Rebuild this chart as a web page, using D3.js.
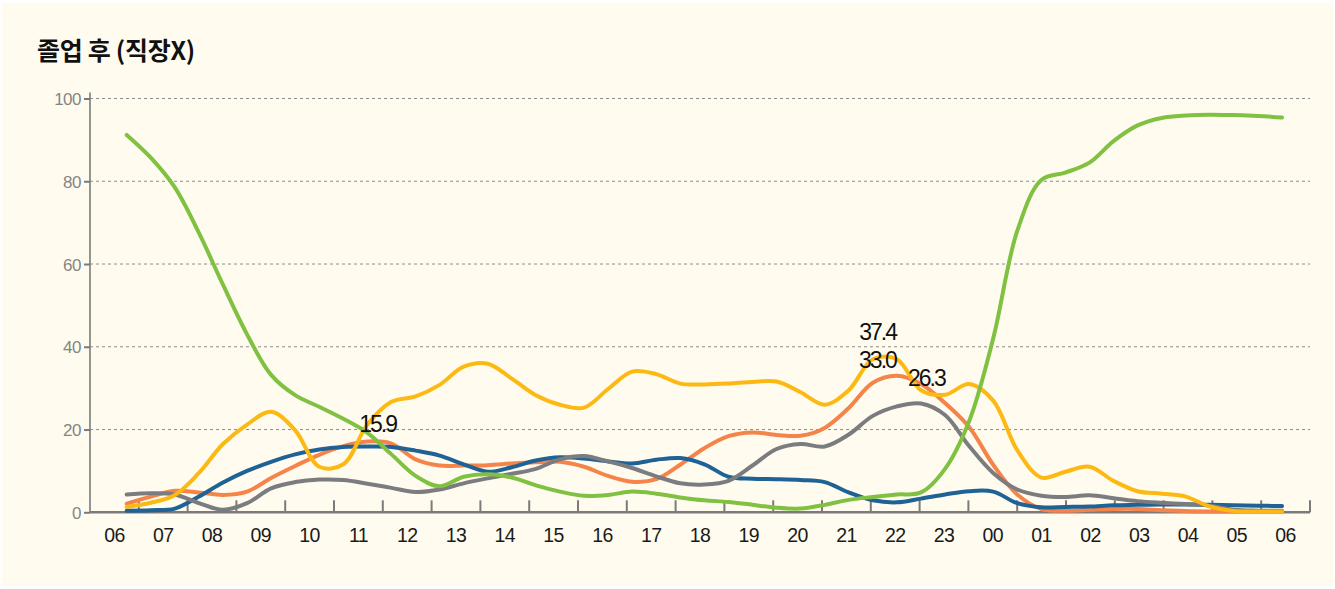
<!DOCTYPE html>
<html>
<head>
<meta charset="utf-8">
<script src="https://cdn.jsdelivr.net/npm/d3@7"></script>
<style>
  html, body { margin: 0; padding: 0; background: #ffffff; }
  svg { display: block; }
</style>
</head>
<body>
<div id="chart"></div>
<script>
// ---------- DATA ----------
const title = "졸업 후 (직장X)";
const hourLabels = ["06","07","08","09","10","11","12","13","14","15","16","17","18","19","20","21","22","23","00","01","02","03","04","05","06"];
const yTicks = [0, 20, 40, 60, 80, 100];
// half-hour samples, hours elapsed from 06:00 (0 .. 24)
const times = d3.range(0, 24.001, 0.5);

const greenValues = [91.2,85.7,78.5,67.5,55.0,43.0,33.2,28.3,25.5,22.6,19.2,14.0,8.8,6.3,8.6,9.2,8.4,6.5,5.0,4.0,4.2,5.0,4.5,3.6,2.9,2.5,1.8,1.1,0.9,1.8,3.0,3.7,4.3,4.8,10.5,22.0,42.0,68.0,80.3,82.1,84.5,89.7,93.5,95.3,95.9,96.1,96.0,95.8,95.4];
const yellowValues = [1.3,2.3,4.2,9.5,16.5,21.2,24.3,19.8,11.0,11.6,21.2,26.7,28.0,30.8,35.2,35.9,32.3,28.3,26.0,25.3,29.8,34.0,33.4,31.1,30.9,31.1,31.5,31.6,29.0,26.0,29.5,37.0,37.0,29.5,28.4,31.0,27.0,15.0,8.4,9.8,11.0,7.6,5.1,4.5,3.8,1.4,0.3,0.2,0.2];
const orangeValues = [2.1,3.8,5.2,4.8,4.2,5.0,8.3,11.2,13.9,16.0,17.1,16.6,12.8,11.3,11.3,11.4,11.8,12.1,12.2,11.0,8.8,7.4,8.0,11.5,15.5,18.4,19.3,18.7,18.5,20.4,25.2,31.3,33.0,31.0,26.4,20.6,11.5,4.3,0.8,0.4,0.6,0.8,0.8,0.5,0.3,0.2,0.2,0.2,0.2];
const grayValues = [4.3,4.6,4.3,2.2,0.6,2.2,5.8,7.3,7.9,7.8,6.9,5.9,4.9,5.5,7.0,8.2,9.3,10.5,12.8,13.6,12.3,10.7,8.7,7.0,6.7,7.6,11.3,15.3,16.5,15.9,18.8,23.3,25.6,26.3,23.5,16.0,9.5,5.5,4.0,3.7,4.1,3.4,2.7,2.3,2.0,1.6,0.6,0.4,0.4];
const blueValues = [0.4,0.5,0.9,3.8,7.2,10.0,12.2,14.0,15.2,15.8,15.9,15.8,14.9,13.7,11.6,9.8,10.9,12.5,13.3,13.0,12.3,11.8,12.7,13.1,11.6,8.6,8.1,8.0,7.8,7.3,4.8,2.9,2.4,3.3,4.3,5.1,5.0,2.2,1.2,1.3,1.4,1.7,1.8,1.9,1.9,1.8,1.7,1.6,1.5];

const seriesNames = ["orange", "blue", "gray", "yellow", "green"];
const seriesColors = ["#f5844a", "#1f6296", "#7b7c7f", "#fdb913", "#80c142"];
const seriesData = [orangeValues, blueValues, grayValues, yellowValues, greenValues];

// value labels (peak annotations)
const annotTexts = ["15.9", "37.4", "33.0", "26.3"];
const annotValues = [15.9, 37.4, 33.0, 26.3];
const annotTimes = [4.85, 15.8, 15.9, 16.5];

// ---------- LAYOUT ----------
const W = 1335, H = 589;
const plotLeft = 90, plotRight = 1310, plotTop = 98.5, plotBottom = 512.3;

const svg = d3.select("#chart").append("svg")
  .attr("width", W).attr("height", H);

svg.append("rect")
  .attr("x", 2).attr("y", 3).attr("width", W - 4).attr("height", H - 6)
  .attr("fill", "#fffcef");

const y = d3.scaleLinear().domain([0, 100]).range([plotBottom, plotTop]);
const xBand = d3.scaleBand().domain(d3.range(hourLabels.length)).range([plotLeft, plotRight]);
const xData = d3.scaleLinear().domain([0, 24]).range([126.7, 1282]);

// title
svg.append("text")
  .attr("x", 37).attr("y", 60)
  .attr("font-family", "'Noto Sans CJK KR', 'Noto Sans', sans-serif")
  .attr("font-weight", 700)
  .attr("font-size", 25)
  .attr("letter-spacing", -0.3)
  .attr("fill", "#111")
  .text(title);

// gridlines
svg.append("g").selectAll("line")
  .data(yTicks.filter(d => d > 0))
  .join("line")
  .attr("x1", plotLeft).attr("x2", plotRight)
  .attr("y1", d => y(d)).attr("y2", d => y(d))
  .attr("stroke", "#8c8c8c").attr("stroke-width", 1)
  .attr("stroke-dasharray", "3,3");

// y axis
const yAxis = d3.axisLeft(y).tickValues(yTicks).tickSize(6).tickPadding(3);
const gy = svg.append("g").attr("transform", `translate(${plotLeft},0)`).call(yAxis);
gy.select(".domain").remove();
gy.selectAll(".tick line").attr("stroke", "#7a7a7a").attr("stroke-width", 2);
gy.selectAll(".tick text")
  .attr("font-family", "'Liberation Sans', Arial, sans-serif")
  .attr("font-size", 17)
  .attr("letter-spacing", -0.5)
  .attr("fill", "#858585")
  .attr("dy", "0.36em");
svg.append("line")
  .attr("x1", plotLeft).attr("x2", plotLeft)
  .attr("y1", plotTop - 6).attr("y2", plotBottom)
  .attr("stroke", "#7a7a7a").attr("stroke-width", 1.6);

// x axis: labels centred in bands, ticks at band boundaries
const xAxis = d3.axisBottom(xBand).tickFormat(i => hourLabels[i]).tickSize(0).tickPadding(16);
const gx = svg.append("g").attr("transform", `translate(0,${plotBottom})`).call(xAxis);
gx.select(".domain").remove();
gx.selectAll(".tick text")
  .attr("font-family", "'Liberation Sans', Arial, sans-serif")
  .attr("font-size", 19.5)
  .attr("letter-spacing", -0.6)
  .attr("fill", "#1a1a1a");

svg.append("g").selectAll("line")
  .data(d3.range(1, hourLabels.length + 1))
  .join("line")
  .attr("x1", i => plotLeft + xBand.step() * i)
  .attr("x2", i => plotLeft + xBand.step() * i)
  .attr("y1", plotBottom).attr("y2", plotBottom - 12)
  .attr("stroke", "#7a7a7a").attr("stroke-width", 2);

svg.append("line")
  .attr("x1", plotLeft).attr("x2", plotRight)
  .attr("y1", plotBottom).attr("y2", plotBottom)
  .attr("stroke", "#7a7a7a").attr("stroke-width", 2.6);

// lines
const line = d3.line()
  .x((d, i) => xData(times[i]))
  .y(d => y(Math.max(0, d)))
  .curve(d3.curveCatmullRom.alpha(0.5));

svg.append("g").selectAll("path")
  .data(seriesData)
  .join("path")
  .attr("d", d => line(d))
  .attr("fill", "none")
  .attr("stroke", (d, i) => seriesColors[i])
  .attr("stroke-width", 4)
  .attr("stroke-linecap", "round")
  .attr("stroke-linejoin", "round");

// annotations
const annotDx = [-1, -28, -33, -13];
const annotDy = [-15, -18, -7.5, -17.5];
svg.append("g").selectAll("text")
  .data(annotTexts)
  .join("text")
  .attr("x", (d, i) => xData(annotTimes[i]) + annotDx[i])
  .attr("y", (d, i) => y(annotValues[i]) + annotDy[i])
  .attr("font-family", "'Liberation Sans', Arial, sans-serif")
  .attr("font-size", 23)
  .attr("letter-spacing", -2)
  .attr("fill", "#111")
  .text(d => d);
</script>
</body>
</html>
